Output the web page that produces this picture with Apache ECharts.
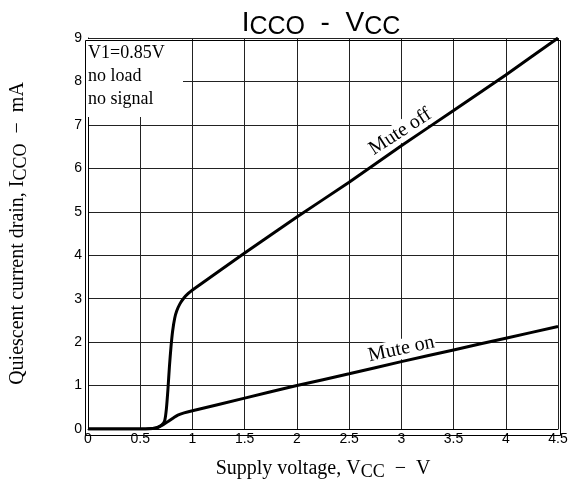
<!DOCTYPE html>
<html>
<head>
    <meta charset="utf-8">
    <title>ICCO - VCC</title>
    <script src="https://cdn.jsdelivr.net/npm/echarts@6/dist/echarts.min.js"></script>
    <style>
        body { margin: 0; background: #fff; }
        #main { width: 581px; height: 486px; }
    </style>
</head>
<body>
<div id="main"></div>
<script type="text/javascript">
    // 电源电压 Vcc (V)
    var muteOffVcc = [0, 0.3, 0.55, 0.62, 0.67, 0.71, 0.735, 0.75, 0.765, 0.78, 0.795, 0.81, 0.83, 0.85, 0.88, 0.92, 0.96, 1.0, 1.5, 2.0, 2.5, 3.0, 3.5, 4.0, 4.5];
    // 静态电流 Icco (mA), mute off
    var muteOffIcco = [0, 0, 0, 0.01, 0.04, 0.1, 0.2, 0.45, 0.9, 1.45, 1.9, 2.25, 2.55, 2.72, 2.88, 3.02, 3.12, 3.2, 4.05, 4.88, 5.68, 6.52, 7.33, 8.15, 9.0];

    var muteOnVcc = [0, 0.3, 0.55, 0.62, 0.67, 0.72, 0.77, 0.82, 0.86, 0.92, 1.0, 1.5, 2.0, 2.5, 3.0, 3.5, 4.0, 4.5];
    var muteOnIcco = [0, 0, 0, 0.01, 0.04, 0.1, 0.18, 0.26, 0.32, 0.37, 0.42, 0.71, 1.0, 1.27, 1.55, 1.82, 2.09, 2.36];

    var xTicks = ['0', '0.5', '1', '1.5', '2', '2.5', '3', '3.5', '4', '4.5'];
    var yTicks = ['0', '1', '2', '3', '4', '5', '6', '7', '8', '9'];

    function pairs(xs, ys) {
        var out = [];
        for (var i = 0; i < xs.length; i++) {
            out.push([xs[i], ys[i]]);
        }
        return out;
    }

    var myChart = echarts.init(document.getElementById('main'));

    var serif = '"Liberation Serif", "DejaVu Serif", serif';
    var sans = '"Liberation Sans", Arial, sans-serif';

    var option = {
        animation: false,
        title: {
            text: '{a|I}{b|CCO}{a|  -  V}{b|CC}',
            left: 316,
            textAlign: 'center',
            top: 2,
            textStyle: {
                fontWeight: 'normal',
                rich: {
                    a: { fontFamily: sans, fontSize: 28, fontWeight: 'normal', color: '#000', verticalAlign: 'bottom', lineHeight: 30 },
                    b: { fontFamily: sans, fontSize: 25, fontWeight: 'normal', color: '#000', verticalAlign: 'bottom', lineHeight: 26, padding: [0, 0, -3, 0] }
                }
            }
        },
        grid: {
            left: 83,
            right: 23,
            top: 38,
            bottom: 53
        },
        xAxis: {
            type: 'value',
            min: 0,
            max: 4.5,
            interval: 0.5,
            name: '{n|Supply voltage, V}{s|CC}{n|  −  V}',
            nameLocation: 'middle',
            nameGap: 28,
            nameTextStyle: {
                rich: {
                    n: { fontFamily: serif, fontSize: 20, color: '#000' },
                    s: { fontFamily: serif, fontSize: 18, color: '#000', padding: [6, 0, 0, 0] }
                }
            },
            axisLine: { show: true, lineStyle: { color: '#000', width: 1 } },
            axisTick: { show: false },
            splitLine: { show: true, lineStyle: { color: '#222', width: 1 } },
            axisLabel: {
                color: '#000',
                fontFamily: sans,
                fontSize: 14,
                margin: 3,
                formatter: function (v) {
                    return xTicks[Math.round(v / 0.5)];
                }
            }
        },
        yAxis: {
            type: 'value',
            min: 0,
            max: 9,
            interval: 1,
            name: '{n|Quiescent current drain, I}{s|CCO}{n|  −  mA}',
            nameLocation: 'middle',
            nameGap: 58,
            nameTextStyle: {
                rich: {
                    n: { fontFamily: serif, fontSize: 20, color: '#000' },
                    s: { fontFamily: serif, fontSize: 18, color: '#000', padding: [6, 0, 0, 0] }
                }
            },
            axisLine: { show: true, lineStyle: { color: '#000', width: 1 } },
            axisTick: { show: false },
            splitLine: { show: true, lineStyle: { color: '#222', width: 1 } },
            axisLabel: {
                color: '#000',
                fontFamily: sans,
                fontSize: 14,
                margin: 6,
                verticalAlign: 'middle',
                formatter: function (v) {
                    return yTicks[Math.round(v)];
                }
            }
        },
        graphic: [
            {
                type: 'rect',
                left: 84,
                top: 39,
                shape: { width: 99, height: 78 },
                style: { fill: '#fff' },
                z: 10
            },
            {
                type: 'text',
                left: 88,
                top: 42,
                style: {
                    text: 'V1=0.85V\nno load\nno signal',
                    font: '18px ' + serif,
                    fill: '#000',
                    lineHeight: 23
                },
                z: 11
            },
            {
                type: 'rect',
                left: 83,
                top: 38,
                shape: { width: 475, height: 395 },
                style: { fill: 'none', stroke: '#000', lineWidth: 1 },
                z: 12
            }
        ],
        series: [
            {
                name: 'Mute off',
                type: 'line',
                data: pairs(muteOffVcc, muteOffIcco),
                showSymbol: false,
                smooth: 0.2,
                lineStyle: { color: '#000', width: 3 },
                z: 5,
                markPoint: {
                    symbol: 'rect',
                    symbolSize: 1,
                    itemStyle: { color: 'transparent' },
                    label: {
                        show: true,
                        position: 'inside',
                        formatter: 'Mute off',
                        rotate: 33,
                        fontFamily: serif,
                        fontSize: 20,
                        color: '#000',
                        backgroundColor: '#fff',
                        padding: [0, 1, 0, 1]
                    },
                    data: [{ coord: [2.99, 6.84] }]
                }
            },
            {
                name: 'Mute on',
                type: 'line',
                data: pairs(muteOnVcc, muteOnIcco),
                showSymbol: false,
                smooth: 0.2,
                lineStyle: { color: '#000', width: 3 },
                z: 5,
                markPoint: {
                    symbol: 'rect',
                    symbolSize: 1,
                    itemStyle: { color: 'transparent' },
                    label: {
                        show: true,
                        position: 'inside',
                        formatter: 'Mute on',
                        rotate: 12,
                        fontFamily: serif,
                        fontSize: 20,
                        color: '#000',
                        backgroundColor: '#fff',
                        padding: [0, 1, 0, 1]
                    },
                    data: [{ coord: [3.0, 1.84] }]
                }
            }
        ]
    };

    myChart.setOption(option);
</script>
</body>
</html>
